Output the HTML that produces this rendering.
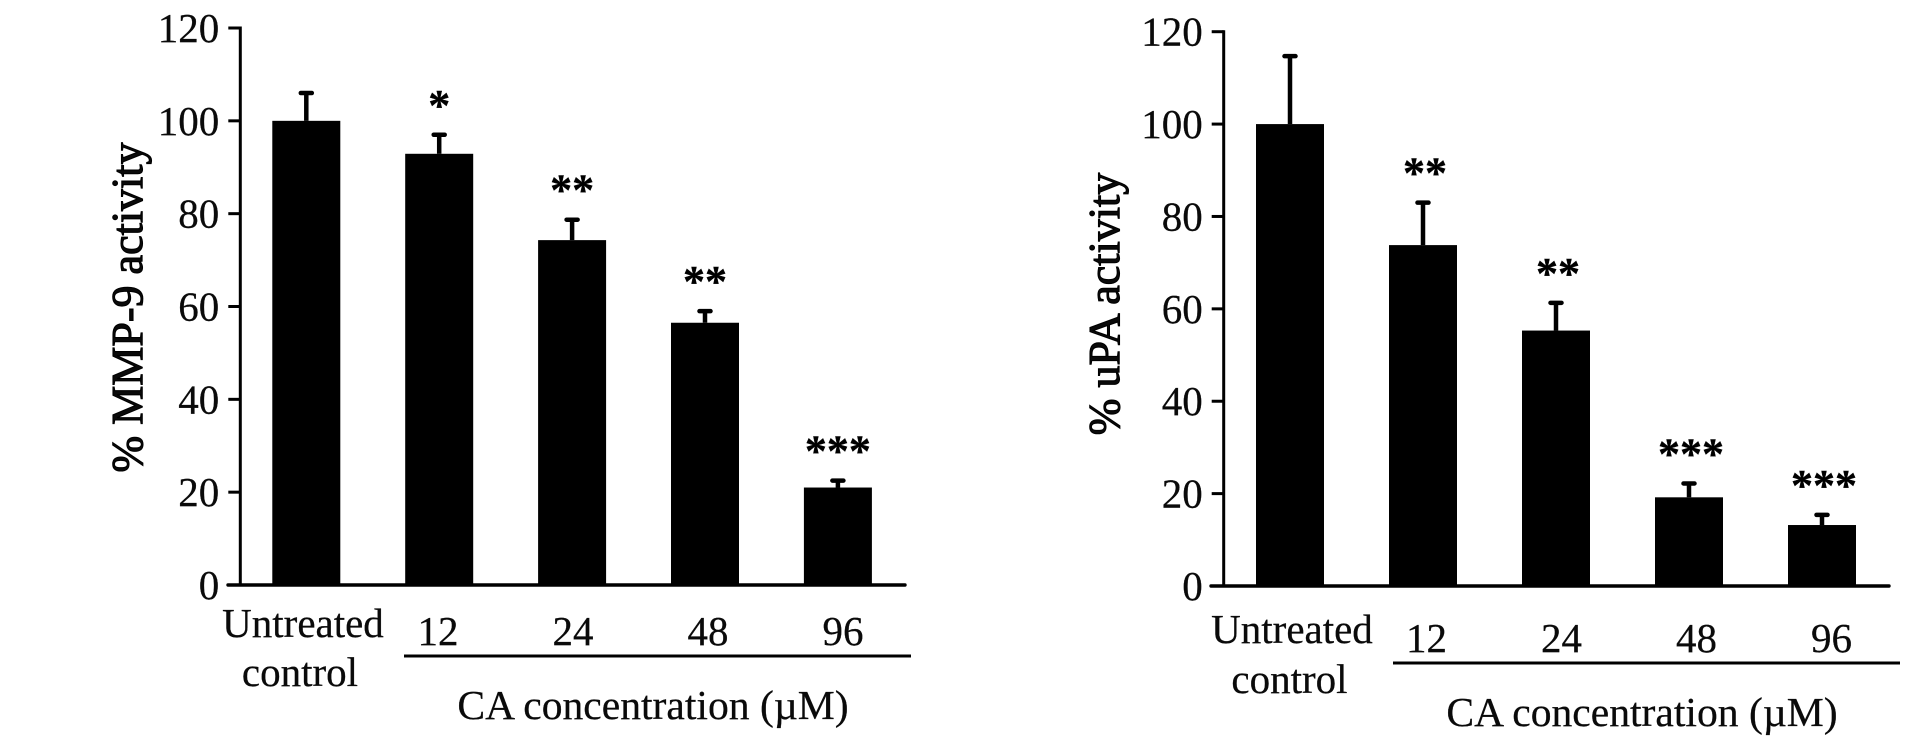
<!DOCTYPE html>
<html lang="en">
<head>
<meta charset="utf-8">
<title>MMP-9 and uPA activity versus CA concentration</title>
<style>
  html, body { margin: 0; padding: 0; background: #fff; }
  svg { display: block; }
  text { font-family: "Liberation Serif", "DejaVu Serif", serif; fill: #0a0a0a; }
  .lbl { font-size: 41px; stroke: #0a0a0a; stroke-width: 0.25px; }
  .xtitle { font-size: 41.6px; stroke: #0a0a0a; stroke-width: 0.25px; text-anchor: middle; }
  .title { font-size: 44px; font-weight: normal; text-anchor: middle; stroke: #000; stroke-width: 1.1px; }
  .star { font-size: 44px; font-weight: bold; text-anchor: middle; fill: #000; stroke: #000; stroke-width: 0.4px; }
</style>
</head>
<body>
<svg id="figure" xmlns="http://www.w3.org/2000/svg" width="1913" height="744" viewBox="0 0 1913 744">
  <rect width="1913" height="744" fill="#ffffff"/>
  <g id="panel-mmp9">
    <text class="title" transform="translate(142,307.5) rotate(-90)">% MMP-9 activity</text>
    <text class="xtitle" x="653" y="719">CA concentration (µM)</text>
  </g>
  <g id="panel-upa">
    <text class="title" transform="translate(1119,304) rotate(-90)">% uPA activity</text>
    <text class="xtitle" x="1642" y="726">CA concentration (µM)</text>
  </g>
</svg>
<script>
// Chart data
const categories = ["Untreated control", "12", "24", "48", "96"];
const yTicks = [0, 20, 40, 60, 80, 100, 120];
const mmp9Values = [100, 92.9, 74.3, 56.5, 21];
const mmp9ErrorTops = [106, 97, 78.7, 59, 22.5];
const mmp9Stars = ["", "*", "**", "**", "***"];
const upaValues = [100, 73.8, 55.3, 19.2, 13.2];
const upaErrorTops = [114.7, 83, 61.3, 22.2, 15.4];
const upaStars = ["", "**", "**", "***", "***"];

const NS = "http://www.w3.org/2000/svg";
const yMax = 120;

function mk(parent, tag, attrs, text) {
  const node = document.createElementNS(NS, tag);
  for (const k in attrs) node.setAttribute(k, attrs[k]);
  if (text !== undefined) node.textContent = text;
  parent.appendChild(node);
  return node;
}

function drawPanel(cfg) {
  const g = document.getElementById(cfg.id);
  const y = v => cfg.y0 - (v / yMax) * (cfg.y0 - cfg.y120);
  const barLeft = i => cfg.bar0 + i * cfg.barStep;
  const barCenter = i => barLeft(i) + cfg.barW / 2;

  // bars and error bars
  cfg.values.forEach((v, i) => {
    const stem = mk(g, "line", { x1: barCenter(i), x2: barCenter(i), y1: y(v), y2: y(cfg.errors[i]), stroke: "#000", "stroke-width": 4.5 });
    
    
    const cap = mk(g, "line", { x1: barCenter(i) - 5.5, x2: barCenter(i) + 5.5, y1: y(cfg.errors[i]), y2: y(cfg.errors[i]), stroke: "#000", "stroke-width": 4.5, "stroke-linecap": "round" });
    
    
    const bar = mk(g, "rect", { x: barLeft(i), y: y(v), width: cfg.barW, height: cfg.y0 - y(v), fill: "#000" });
    
    
    if (cfg.stars[i]) {
      const star = mk(g, "text", { class: "star", x: barCenter(i) + cfg.starNudge, y: y(cfg.errors[i]) - 35 + 20 }, cfg.stars[i]);
      
      
    }
  });

  // y axis
  const yAxis = mk(g, "line", { x1: cfg.axisX, x2: cfg.axisX, y1: y(yMax) - 1.5, y2: cfg.y0, stroke: "#000", "stroke-width": 3 });
  
  
  yTicks.forEach(t => {
    const tick = mk(g, "line", { x1: cfg.axisX - 12, x2: cfg.axisX, y1: y(t), y2: y(t), stroke: "#000", "stroke-width": 3 });
    
    
    const label = mk(g, "text", { class: "lbl", x: cfg.axisX - 21, y: y(t) + 14, "text-anchor": "end" }, String(t));
    
    
  });

  // x axis
  const xAxis = mk(g, "line", { x1: cfg.xAxisStart, x2: cfg.xAxisEnd, y1: cfg.y0, y2: cfg.y0, stroke: "#000", "stroke-width": 3.4, "stroke-linecap": "round" });
  
  

  // category labels
  categories.forEach((c, i) => {
    if (i === 0) {
      const words = c.split(" ");
      const w1 = mk(g, "text", { class: "lbl", x: cfg.untreatedX, y: cfg.untreatedY, "text-anchor": "middle" }, words[0]);
      
      
      const w2 = mk(g, "text", { class: "lbl", x: cfg.controlX, y: cfg.controlY, "text-anchor": "middle" }, words[1]);
      
      
    } else {
      const lab = mk(g, "text", { class: "lbl", x: cfg.label0 + (i - 1) * cfg.labelStep, y: cfg.labelY, "text-anchor": "middle" }, c);
      
      
    }
  });

  // concentration bracket
  const rule = mk(g, "line", { x1: cfg.ruleStart, x2: cfg.ruleEnd, y1: cfg.ruleY, y2: cfg.ruleY, stroke: "#000", "stroke-width": 3 });
  
  
}

drawPanel({
  id: "panel-mmp9", values: mmp9Values, errors: mmp9ErrorTops, stars: mmp9Stars,
  y0: 585, y120: 28, axisX: 240.3, bar0: 272.3, barW: 68, barStep: 132.9, starNudge: 0,
  xAxisStart: 228, xAxisEnd: 905,
  untreatedX: 303, untreatedY: 637, controlX: 300, controlY: 686,
  label0: 438, labelStep: 135, labelY: 645,
  ruleStart: 404, ruleEnd: 911, ruleY: 656
});
drawPanel({
  id: "panel-upa", values: upaValues, errors: upaErrorTops, stars: upaStars,
  y0: 586, y120: 31.7, axisX: 1223.7, bar0: 1256, barW: 68, barStep: 133, starNudge: 2,
  xAxisStart: 1211, xAxisEnd: 1889,
  untreatedX: 1292, untreatedY: 643, controlX: 1289.5, controlY: 693,
  label0: 1426.5, labelStep: 135, labelY: 652,
  ruleStart: 1393, ruleEnd: 1900, ruleY: 663
});
</script>
</body>
</html>
